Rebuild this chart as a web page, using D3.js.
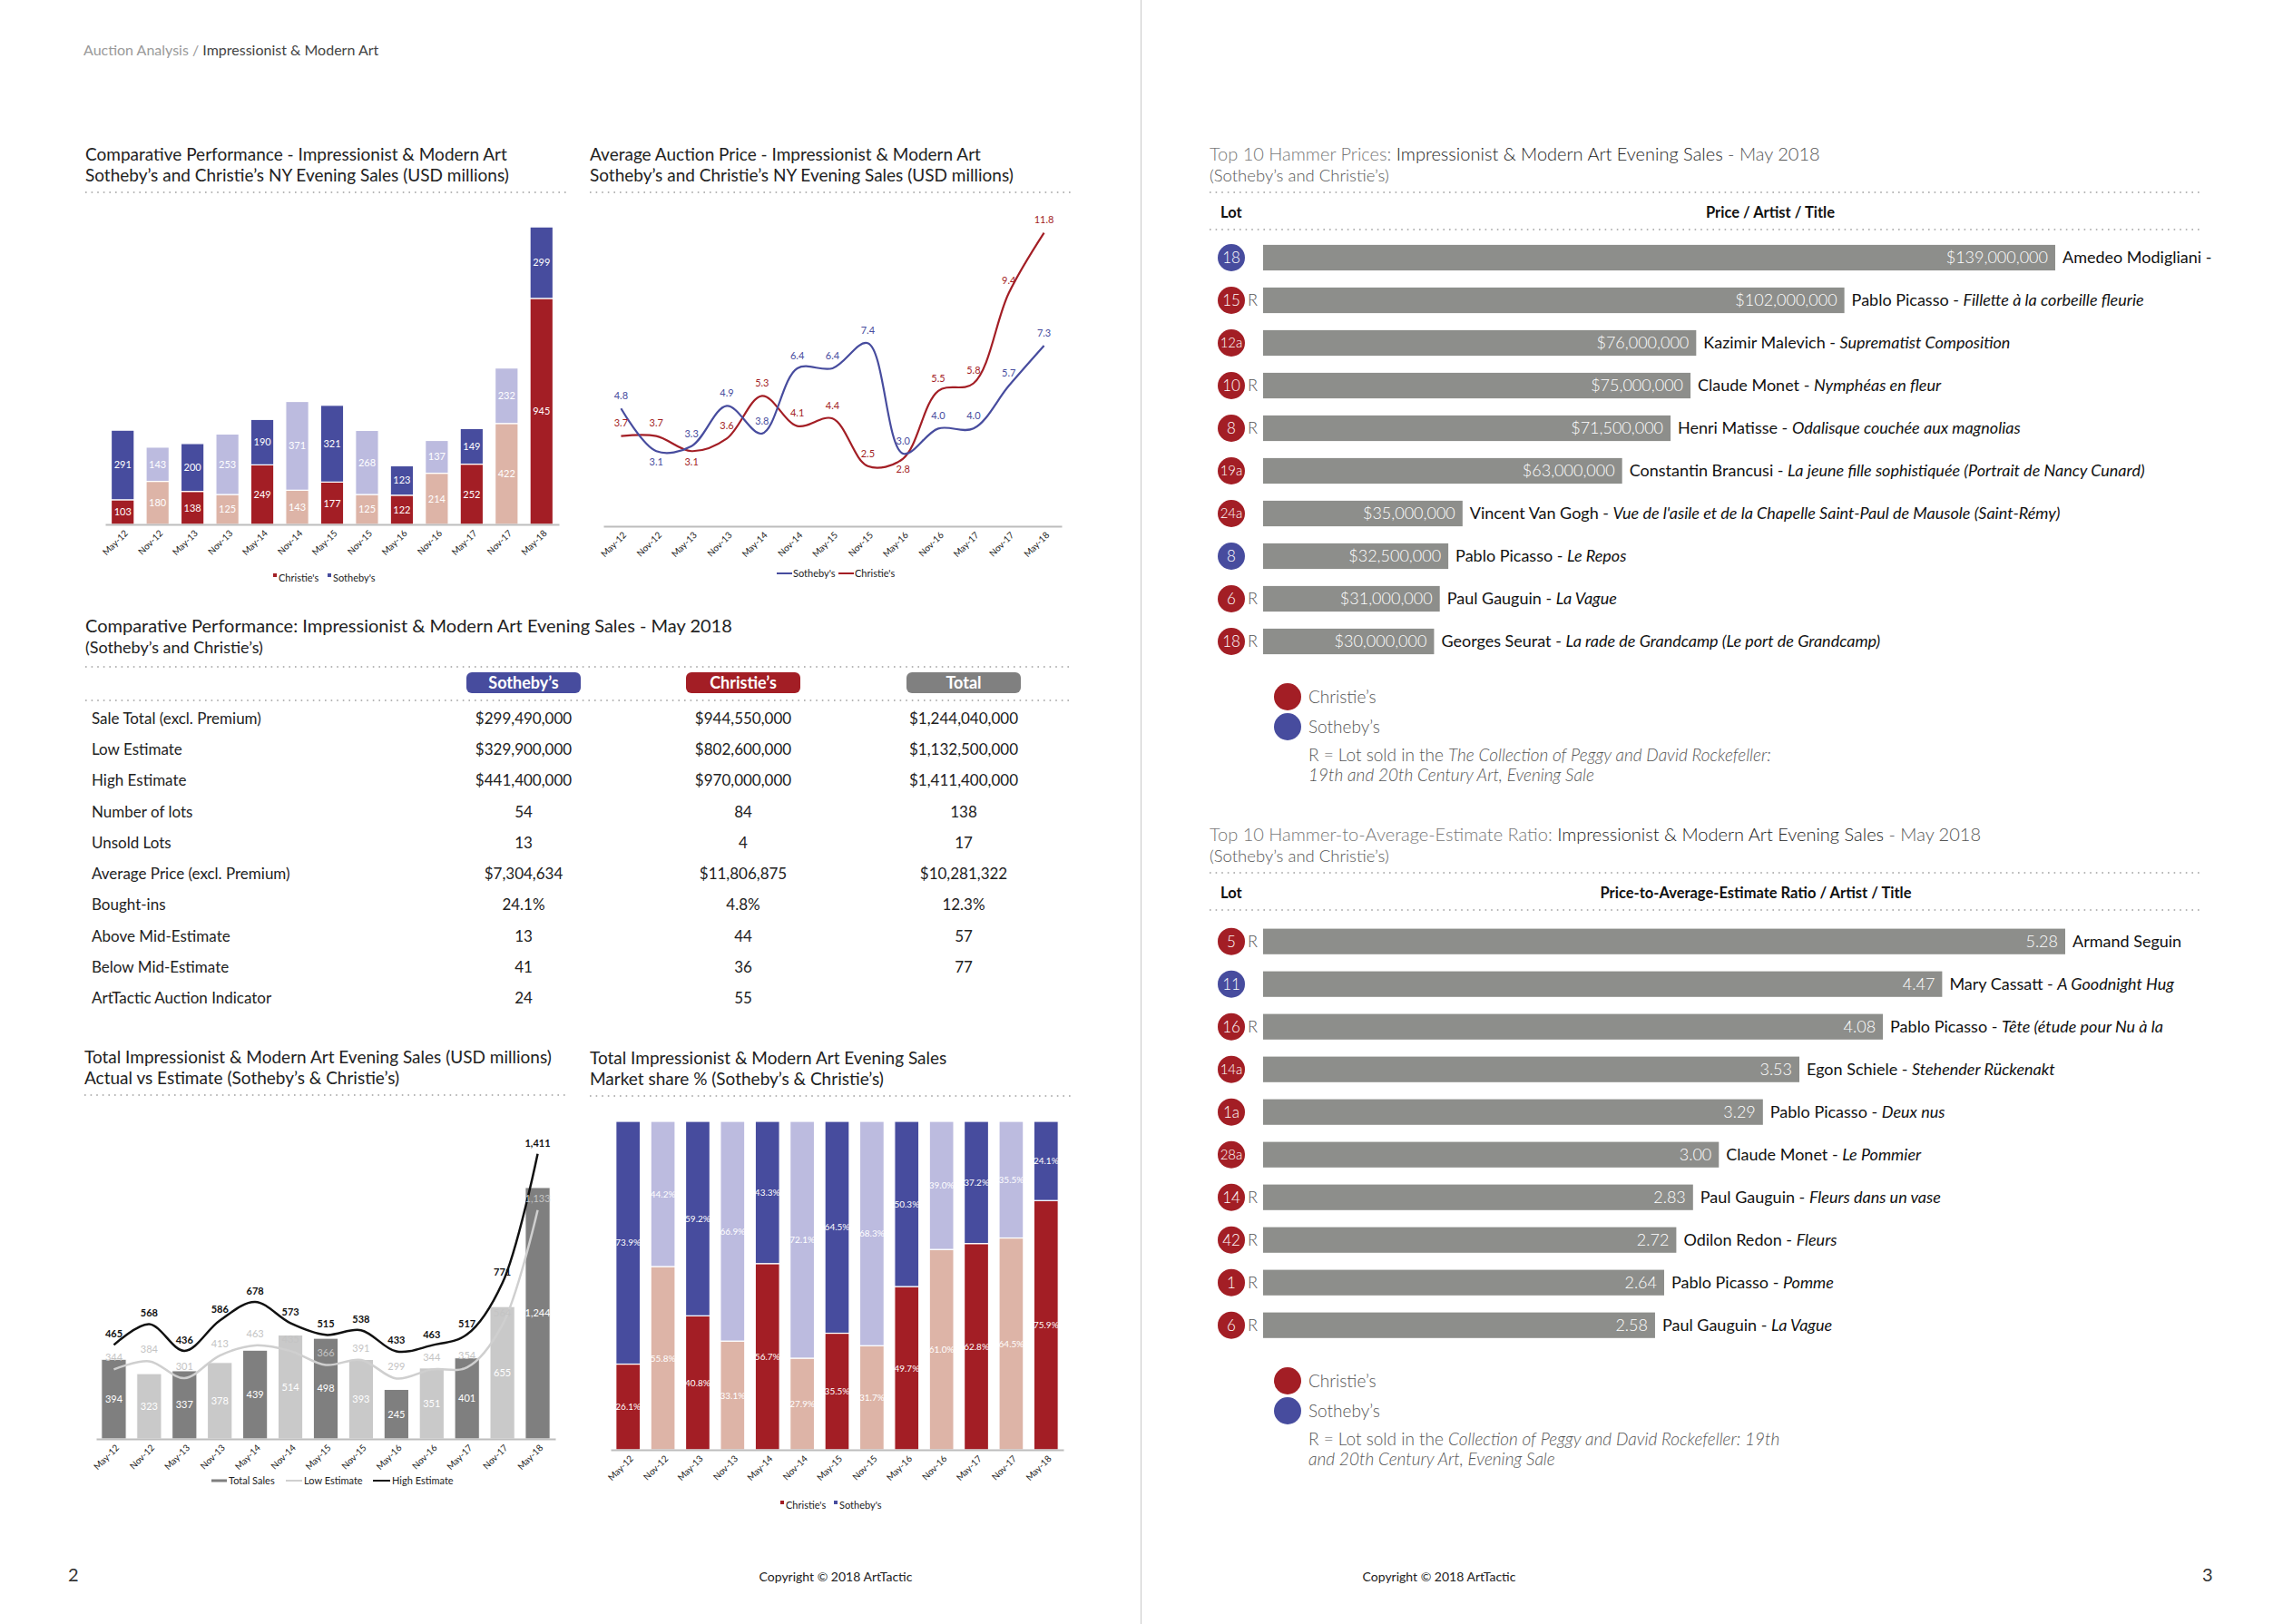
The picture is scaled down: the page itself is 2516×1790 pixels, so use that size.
<!DOCTYPE html>
<html>
<head>
<meta charset="utf-8">
<script src="https://cdn.jsdelivr.net/npm/d3@7"></script>
<style>
  body { margin: 0; background: #fff; }
  svg { display: block; font-family: Lato, "Open Sans", sans-serif; }
</style>
</head>
<body>
<svg id="page" width="2516" height="1790"></svg>
<script>
// ---- data ----
var periods = ["May-12","Nov-12","May-13","Nov-13","May-14","Nov-14","May-15","Nov-15","May-16","Nov-16","May-17","Nov-17","May-18"];
var christieSales = [103,180,138,125,249,143,177,125,122,214,252,422,945];
var sothebySales  = [291,143,200,253,190,371,321,268,123,137,149,232,299];

var sothebyAvgPrice  = [4.8,3.1,3.3,4.9,3.8,6.4,6.4,7.4,3.0,4.0,4.0,5.7,7.3];
var christieAvgPrice = [3.7,3.7,3.1,3.6,5.3,4.1,4.4,2.5,2.8,5.5,5.8,9.4,11.8];

var totalSales   = [394,323,337,378,439,514,498,393,245,351,401,655,1244];
var lowEstimate  = [344,384,301,413,463,435,366,391,299,344,354,564,1133];
var highEstimate = [465,568,436,586,678,573,515,538,433,463,517,771,1411];

var christieShare = [26.1,55.8,40.8,33.1,56.7,27.9,35.5,31.7,49.7,61.0,62.8,64.5,75.9];
var sothebyShare  = [73.9,44.2,59.2,66.9,43.3,72.1,64.5,68.3,50.3,39.0,37.2,35.5,24.1];

var tableRowLabels = ["Sale Total (excl. Premium)","Low Estimate","High Estimate","Number of lots","Unsold Lots",
  "Average Price (excl. Premium)","Bought-ins","Above Mid-Estimate","Below Mid-Estimate","ArtTactic Auction Indicator"];
var tableSotheby  = ["$299,490,000","$329,900,000","$441,400,000","54","13","$7,304,634","24.1%","13","41","24"];
var tableChristie = ["$944,550,000","$802,600,000","$970,000,000","84","4","$11,806,875","4.8%","44","36","55"];
var tableTotal    = ["$1,244,040,000","$1,132,500,000","$1,411,400,000","138","17","$10,281,322","12.3%","57","77",""];

var hammerLots   = ["18","15","12a","10","8","19a","24a","8","6","18"];
var hammerHouse  = ["S","C","C","C","C","C","C","S","C","C"];
var hammerR      = [false,true,false,true,true,false,false,false,true,true];
var hammerPrice  = [139,102,76,75,71.5,63,35,32.5,31,30]; // USD millions
var hammerArtist = ["Amedeo Modigliani","Pablo Picasso","Kazimir Malevich","Claude Monet","Henri Matisse",
  "Constantin Brancusi","Vincent Van Gogh","Pablo Picasso","Paul Gauguin","Georges Seurat"];
var hammerTitle  = ["","Fillette à la corbeille fleurie","Suprematist Composition","Nymphéas en fleur",
  "Odalisque couchée aux magnolias","La jeune fille sophistiquée (Portrait de Nancy Cunard)",
  "Vue de l'asile et de la Chapelle Saint-Paul de Mausole (Saint-Rémy)","Le Repos","La Vague",
  "La rade de Grandcamp (Le port de Grandcamp)"];

var ratioLots   = ["5","11","16","14a","1a","28a","14","42","1","6"];
var ratioHouse  = ["C","S","C","C","C","C","C","C","C","C"];
var ratioR      = [true,false,true,false,false,false,true,true,true,true];
var ratioValue  = [5.28,4.47,4.08,3.53,3.29,3.00,2.83,2.72,2.64,2.58];
var ratioArtist = ["Armand Seguin","Mary Cassatt","Pablo Picasso","Egon Schiele","Pablo Picasso","Claude Monet",
  "Paul Gauguin","Odilon Redon","Pablo Picasso","Paul Gauguin"];
var ratioTitle  = [null,"A Goodnight Hug","Tête (étude pour Nu à  la","Stehender Rückenakt","Deux nus","Le Pommier",
  "Fleurs dans un vase","Fleurs","Pomme","La Vague"];

// ---- colours ----
var RED = "#A31E25", PINK = "#DDB4A7", BLUE = "#474C9E", LILAC = "#BCBBDF";
var DARKGREY = "#7F7F7F", LIGHTGREY = "#C9C9C9", BARGREY = "#8D8E8B";

var svg = d3.select("#page");

function dotted(x1, x2, y) {
  svg.append("line")
    .attr("x1", x1).attr("x2", x2).attr("y1", y).attr("y2", y)
    .attr("stroke", "#a0a0a0").attr("stroke-width", 1.6)
    .attr("stroke-dasharray", "1.6 5");
}

function title(x, y, lines) {
  lines.forEach((l, i) => {
    svg.append("text").attr("x", x).attr("y", y + i * 23)
      .attr("font-size", 19).attr("fill", "#222").text(l);
  });
}

function periodAxis(x, y) {
  var ax = svg.append("g")
    .attr("transform", `translate(0, ${y})`)
    .call(d3.axisBottom(x).tickSize(0).tickSizeOuter(0));
  ax.select(".domain").attr("stroke", "#bdbdbd").attr("stroke-width", 2);
  ax.selectAll("text")
    .attr("font-size", 10).attr("font-family", "Lato").attr("fill", "#222")
    .attr("text-anchor", "end").attr("x", 0).attr("y", 0).attr("dy", "0.35em")
    .attr("transform", "translate(4, 8) rotate(-45)");
}

function squareLegend(items, y) {
  items.forEach(it => {
    svg.append("rect").attr("x", it.x).attr("y", y - 5).attr("width", 4).attr("height", 4).attr("fill", it.color);
    svg.append("text").attr("x", it.x + 6).attr("y", y).attr("dy", "0.35em")
      .attr("font-size", 11).attr("fill", "#222").text(it.label);
  });
}

// ---- page furniture ----
var head = svg.append("text").attr("x", 92).attr("y", 61).attr("font-size", 16);
head.append("tspan").attr("fill", "#9a9a9a").text("Auction Analysis / ");
head.append("tspan").attr("fill", "#444").text("Impressionist & Modern Art");

svg.append("line").attr("x1", 1257.5).attr("x2", 1257.5).attr("y1", 0).attr("y2", 1790)
  .attr("stroke", "#c8c8c8").attr("stroke-width", 1);

svg.append("text").attr("x", 75).attr("y", 1736).attr("dy", "0.35em").attr("font-size", 20).attr("fill", "#333").text("2");
svg.append("text").attr("x", 2427).attr("y", 1736).attr("dy", "0.35em").attr("font-size", 20).attr("fill", "#333").text("3");
svg.append("text").attr("x", 921).attr("y", 1743).attr("text-anchor", "middle").attr("font-size", 14).attr("fill", "#222")
  .text("Copyright © 2018 ArtTactic");
svg.append("text").attr("x", 1586).attr("y", 1743).attr("text-anchor", "middle").attr("font-size", 14).attr("fill", "#222")
  .text("Copyright © 2018 ArtTactic");

// ---- chart 1: stacked sales ----
title(94, 177, ["Comparative Performance - Impressionist & Modern Art", "Sotheby’s and Christie’s NY Evening Sales (USD millions)"]);
dotted(94, 625, 212);

var x1 = d3.scaleBand().domain(periods).range([116, 616]).paddingInner(0.34).paddingOuter(0.17);
var y1 = d3.scaleLinear().domain([0, 1400]).range([578, 209]);
var d1 = periods.map((p, i) => ({ p: p, i: i, c: christieSales[i], s: sothebySales[i] }));

var g1 = svg.append("g");
g1.selectAll("rect.c").data(d1).enter().append("rect")
  .attr("x", d => x1(d.p)).attr("width", x1.bandwidth())
  .attr("y", d => y1(d.c)).attr("height", d => y1(0) - y1(d.c))
  .attr("fill", d => d.i % 2 ? PINK : RED).attr("stroke", "#fff").attr("stroke-width", 1.2);
g1.selectAll("rect.s").data(d1).enter().append("rect")
  .attr("x", d => x1(d.p)).attr("width", x1.bandwidth())
  .attr("y", d => y1(d.c + d.s)).attr("height", d => y1(d.c) - y1(d.c + d.s))
  .attr("fill", d => d.i % 2 ? LILAC : BLUE).attr("stroke", "#fff").attr("stroke-width", 1.2);
g1.selectAll("text.c").data(d1).enter().append("text")
  .attr("x", d => x1(d.p) + x1.bandwidth() / 2).attr("y", d => y1(d.c / 2)).attr("dy", "0.35em")
  .attr("text-anchor", "middle").attr("font-size", 11).attr("fill", "#fff").text(d => d.c);
g1.selectAll("text.s").data(d1).enter().append("text")
  .attr("x", d => x1(d.p) + x1.bandwidth() / 2).attr("y", d => y1(d.c + d.s / 2)).attr("dy", "0.35em")
  .attr("text-anchor", "middle").attr("font-size", 11).attr("fill", "#fff").text(d => d.s);
periodAxis(x1, 578);
squareLegend([{ x: 301, color: RED, label: "Christie's" }, { x: 361, color: BLUE, label: "Sotheby's" }], 637);

// ---- chart 2: average price lines ----
title(650, 177, ["Average Auction Price - Impressionist & Modern Art", "Sotheby’s and Christie’s NY Evening Sales (USD millions)"]);
dotted(650, 1182, 212);

var x2 = d3.scaleBand().domain(periods).range([665, 1170]);
var cx2 = p => x2(p) + x2.bandwidth() / 2;
var y2 = d3.scaleLinear().domain([0, 12]).range([583, 251]);
var line2 = d3.line().x((d, i) => cx2(periods[i])).y(d => y2(d)).curve(d3.curveCatmullRom.alpha(0.5));

svg.append("path").datum(christieAvgPrice).attr("d", line2).attr("fill", "none").attr("stroke", RED).attr("stroke-width", 2.2);
svg.append("path").datum(sothebyAvgPrice).attr("d", line2).attr("fill", "none").attr("stroke", BLUE).attr("stroke-width", 2.2);

var sothebyBelow = [1], christieBelow = [2, 8];
function avgLabels(values, color, below) {
  svg.append("g").selectAll("text").data(values).enter().append("text")
    .attr("x", (d, i) => cx2(periods[i])).attr("y", (d, i) => y2(d) + (below.includes(i) ? 12 : -14))
    .attr("dy", "0.35em").attr("text-anchor", "middle").attr("font-size", 11).attr("fill", color)
    .text(d => d.toFixed(1));
}
avgLabels(sothebyAvgPrice, BLUE, sothebyBelow);
avgLabels(christieAvgPrice, RED, christieBelow);
periodAxis(x2, 580);

[{ x: 856, color: BLUE, label: "Sotheby's" }, { x: 924, color: RED, label: "Christie's" }].forEach(it => {
  svg.append("line").attr("x1", it.x).attr("x2", it.x + 17).attr("y1", 632).attr("y2", 632)
    .attr("stroke", it.color).attr("stroke-width", 2);
  svg.append("text").attr("x", it.x + 18).attr("y", 632).attr("dy", "0.35em").attr("font-size", 11).attr("fill", "#222").text(it.label);
});

// ---- table ----
svg.append("text").attr("x", 94).attr("y", 697).attr("font-size", 20).attr("fill", "#222")
  .text("Comparative Performance: Impressionist & Modern Art Evening Sales  - May 2018");
svg.append("text").attr("x", 94).attr("y", 720).attr("font-size", 18).attr("fill", "#222")
  .text("(Sotheby’s and Christie’s)");
dotted(94, 1182, 735);
dotted(94, 1182, 772);

var colX = [577, 819, 1062];
var pills = [{ label: "Sotheby’s", color: BLUE }, { label: "Christie’s", color: RED }, { label: "Total", color: "#808080" }];
pills.forEach((p, i) => {
  svg.append("rect").attr("x", colX[i] - 63).attr("y", 741).attr("width", 126).attr("height", 23)
    .attr("rx", 6).attr("fill", p.color);
  svg.append("text").attr("x", colX[i]).attr("y", 752.5).attr("dy", "0.35em").attr("text-anchor", "middle")
    .attr("font-size", 18).attr("font-weight", 700).attr("fill", "#fff").text(p.label);
});

var rowY = d3.scalePoint().domain(d3.range(tableRowLabels.length)).range([791.7, 791.7 + 9 * 34.3]);
var tbl = svg.append("g").attr("font-size", 17).attr("fill", "#222");
tableRowLabels.forEach((lab, i) => {
  tbl.append("text").attr("x", 101).attr("y", rowY(i)).attr("dy", "0.35em").text(lab);
  [tableSotheby, tableChristie, tableTotal].forEach((col, j) => {
    tbl.append("text").attr("x", colX[j]).attr("y", rowY(i)).attr("dy", "0.35em")
      .attr("text-anchor", "middle").text(col[i]);
  });
});

// ---- chart 4: totals vs estimates ----
title(93, 1172, ["Total Impressionist & Modern Art Evening Sales (USD millions)", "Actual vs Estimate  (Sotheby’s & Christie’s)"]);
dotted(93, 624, 1207);

var base4 = 1586;
var x4 = d3.scaleBand().domain(periods).range([106, 612]).paddingInner(0.3).paddingOuter(0.15);
var cx4 = p => x4(p) + x4.bandwidth() / 2;
var y4 = d3.scaleLinear().domain([0, 1500]).range([base4, base4 - 1500 * 0.2227]);

svg.append("g").selectAll("rect").data(totalSales).enter().append("rect")
  .attr("x", (d, i) => x4(periods[i])).attr("width", x4.bandwidth())
  .attr("y", d => y4(d)).attr("height", d => y4(0) - y4(d))
  .attr("fill", (d, i) => i % 2 ? LIGHTGREY : DARKGREY).attr("stroke", "#fff").attr("stroke-width", 1);
svg.append("g").selectAll("text").data(totalSales).enter().append("text")
  .attr("x", (d, i) => cx4(periods[i])).attr("y", d => y4(d / 2)).attr("dy", "0.35em")
  .attr("text-anchor", "middle").attr("font-size", 11).attr("fill", "#fff").text(d3.format(","));

var line4 = d3.line().x((d, i) => cx4(periods[i])).y(d => y4(d)).curve(d3.curveCatmullRom.alpha(0.5));
svg.append("path").datum(lowEstimate).attr("d", line4).attr("fill", "none").attr("stroke", "#cfcfcf").attr("stroke-width", 2.5);
svg.append("path").datum(highEstimate).attr("d", line4).attr("fill", "none").attr("stroke", "#111").attr("stroke-width", 2.5);
svg.append("g").selectAll("text").data(lowEstimate).enter().append("text")
  .attr("x", (d, i) => cx4(periods[i])).attr("y", d => y4(d) - 13).attr("dy", "0.35em")
  .attr("text-anchor", "middle").attr("font-size", 11).attr("fill", "#c4c4c4").text(d3.format(","));
svg.append("g").selectAll("text").data(highEstimate).enter().append("text")
  .attr("x", (d, i) => cx4(periods[i])).attr("y", d => y4(d) - 12).attr("dy", "0.35em")
  .attr("text-anchor", "middle").attr("font-size", 11).attr("font-weight", 700).attr("fill", "#111").text(d3.format(","));
periodAxis(x4, base4);

var leg4 = 1632;
svg.append("rect").attr("x", 233).attr("y", leg4 - 1.5).attr("width", 17).attr("height", 3).attr("fill", DARKGREY);
svg.append("text").attr("x", 252).attr("y", leg4).attr("dy", "0.35em").attr("font-size", 11).attr("fill", "#222").text("Total Sales");
svg.append("line").attr("x1", 315).attr("x2", 333).attr("y1", leg4).attr("y2", leg4).attr("stroke", "#cfcfcf").attr("stroke-width", 2);
svg.append("text").attr("x", 335).attr("y", leg4).attr("dy", "0.35em").attr("font-size", 11).attr("fill", "#222").text("Low Estimate");
svg.append("line").attr("x1", 411).attr("x2", 430).attr("y1", leg4).attr("y2", leg4).attr("stroke", "#111").attr("stroke-width", 2);
svg.append("text").attr("x", 432).attr("y", leg4).attr("dy", "0.35em").attr("font-size", 11).attr("fill", "#222").text("High Estimate");

// ---- chart 5: market share ----
title(650, 1172.5, ["Total Impressionist & Modern Art Evening Sales", "Market share % (Sotheby’s & Christie’s)"]);
dotted(650, 1181, 1208);

var base5 = 1598;
var x5 = d3.scaleBand().domain(periods).range([673, 1172]).paddingInner(0.3).paddingOuter(0.15);
var y5 = d3.scaleLinear().domain([0, 100]).range([base5, 1236]);
var d5 = periods.map((p, i) => ({ p: p, i: i, c: christieShare[i], s: sothebyShare[i] }));
var g5 = svg.append("g");
g5.selectAll("rect.c").data(d5).enter().append("rect")
  .attr("x", d => x5(d.p)).attr("width", x5.bandwidth())
  .attr("y", d => y5(d.c)).attr("height", d => y5(0) - y5(d.c))
  .attr("fill", d => d.i % 2 ? PINK : RED).attr("stroke", "#fff").attr("stroke-width", 1.2);
g5.selectAll("rect.s").data(d5).enter().append("rect")
  .attr("x", d => x5(d.p)).attr("width", x5.bandwidth())
  .attr("y", d => y5(d.c + d.s)).attr("height", d => y5(d.c) - y5(d.c + d.s))
  .attr("fill", d => d.i % 2 ? LILAC : BLUE).attr("stroke", "#fff").attr("stroke-width", 1.2);
g5.selectAll("text.c").data(d5).enter().append("text")
  .attr("x", d => x5(d.p) + x5.bandwidth() / 2).attr("y", d => y5(d.c / 2)).attr("dy", "0.35em")
  .attr("text-anchor", "middle").attr("font-size", 10).attr("fill", "#fff").text(d => d.c.toFixed(1) + "%");
g5.selectAll("text.s").data(d5).enter().append("text")
  .attr("x", d => x5(d.p) + x5.bandwidth() / 2).attr("y", d => y5(d.c + d.s / 2)).attr("dy", "0.35em")
  .attr("text-anchor", "middle").attr("font-size", 10).attr("fill", "#fff").text(d => d.s.toFixed(1) + "%");
periodAxis(x5, base5);
squareLegend([{ x: 860, color: RED, label: "Christie's" }, { x: 919, color: BLUE, label: "Sotheby's" }], 1659);

// ---- right page rankings ----
function ranking(o) {
  var t = svg.append("text").attr("x", 1333).attr("y", o.top).attr("font-size", 20).attr("font-weight", 300);
  t.append("tspan").attr("fill", "#777").text(o.lead);
  t.append("tspan").attr("fill", "#222").text("Impressionist & Modern Art Evening Sales");
  t.append("tspan").attr("fill", "#555").text("  - May 2018");
  svg.append("text").attr("x", 1333).attr("y", o.top + 23).attr("font-size", 18.5).attr("font-weight", 300)
    .attr("fill", "#555").text("(Sotheby’s and Christie’s)");
  dotted(1333, 2424, o.top + 35);
  svg.append("text").attr("x", 1345).attr("y", o.top + 57).attr("dy", "0.35em").attr("font-size", 16.5)
    .attr("font-weight", 700).attr("fill", "#111").text("Lot");
  svg.append("text").attr("x", o.headX).attr("y", o.top + 57).attr("dy", "0.35em").attr("text-anchor", "middle")
    .attr("font-size", 16.5).attr("font-weight", 700).attr("fill", "#111").text(o.head);
  dotted(1333, 2424, o.top + 76);

  var y = d3.scaleBand().domain(d3.range(o.values.length))
    .range([o.rowTop - 23.5, o.rowTop - 23.5 + 470]).paddingInner(0.4).paddingOuter(0.2);
  var cy = i => y(i) + y.bandwidth() / 2;
  var x = d3.scaleLinear().domain([0, d3.max(o.values)]).range([1392, o.maxX]);
  var g = svg.append("g");
  o.values.forEach((v, i) => {
    g.append("rect").attr("x", x(0)).attr("y", y(i)).attr("width", x(v) - x(0)).attr("height", y.bandwidth())
      .attr("fill", BARGREY);
    g.append("text").attr("x", x(v) - 8).attr("y", cy(i)).attr("dy", "0.35em").attr("text-anchor", "end")
      .attr("font-size", 18).attr("font-weight", 300).attr("fill", "#fff").text(o.fmt(v));
    var at = g.append("text").attr("x", x(v) + 8).attr("y", cy(i)).attr("dy", "0.35em")
      .attr("font-size", 18).attr("fill", "#111");
    at.append("tspan").text(o.artists[i] + (o.titles[i] === null ? "" : " - "));
    if (o.titles[i]) at.append("tspan").attr("font-style", "italic").text(o.titles[i]);
    g.append("circle").attr("cx", 1357).attr("cy", cy(i)).attr("r", 15)
      .attr("fill", o.house[i] === "C" ? RED : BLUE);
    g.append("text").attr("x", 1357).attr("y", cy(i)).attr("dy", "0.35em").attr("text-anchor", "middle")
      .attr("font-size", o.lots[i].length > 2 ? 15 : 17).attr("font-weight", 300).attr("fill", "#fff").text(o.lots[i]);
    if (o.r[i]) g.append("text").attr("x", 1375).attr("y", cy(i)).attr("dy", "0.35em")
      .attr("font-size", 18).attr("font-weight", 300).attr("fill", "#555").text("R");
  });

  [{ c: RED, l: "Christie’s" }, { c: BLUE, l: "Sotheby’s" }].forEach((it, k) => {
    svg.append("circle").attr("cx", 1419).attr("cy", o.legendTop + k * 33).attr("r", 15).attr("fill", it.c);
    svg.append("text").attr("x", 1442).attr("y", o.legendTop + k * 33).attr("dy", "0.35em")
      .attr("font-size", 19).attr("font-weight", 300).attr("fill", "#555").text(it.l);
  });
  o.note.forEach((parts, k) => {
    var nt = svg.append("text").attr("x", 1442).attr("y", o.legendTop + 64 + k * 22).attr("dy", "0.35em")
      .attr("font-size", 19).attr("font-weight", 300).attr("fill", "#555");
    parts.forEach(p => nt.append("tspan").attr("font-style", p[1] ? "italic" : "normal").text(p[0]));
  });
}

ranking({
  top: 177, lead: "Top 10 Hammer Prices: ", head: "Price / Artist / Title", headX: 1951,
  rowTop: 284, maxX: 2265, values: hammerPrice, fmt: v => d3.format("$,")(v * 1e6),
  lots: hammerLots, house: hammerHouse, r: hammerR, artists: hammerArtist, titles: hammerTitle,
  legendTop: 768,
  note: [[["R = Lot sold in the ", false], ["The Collection of Peggy and David Rockefeller:", true]],
         [["19th and 20th Century Art, Evening Sale", true]]]
});

ranking({
  top: 927, lead: "Top 10 Hammer-to-Average-Estimate Ratio: ", head: "Price-to-Average-Estimate Ratio / Artist / Title", headX: 1935,
  rowTop: 1037.7, maxX: 2276, values: ratioValue, fmt: d3.format(".2f"),
  lots: ratioLots, house: ratioHouse, r: ratioR, artists: ratioArtist, titles: ratioTitle,
  legendTop: 1522,
  note: [[["R = Lot sold in the ", false], ["Collection of Peggy and David Rockefeller: 19th", true]],
         [["and 20th Century Art, Evening Sale", true]]]
});
</script>
</body>
</html>
